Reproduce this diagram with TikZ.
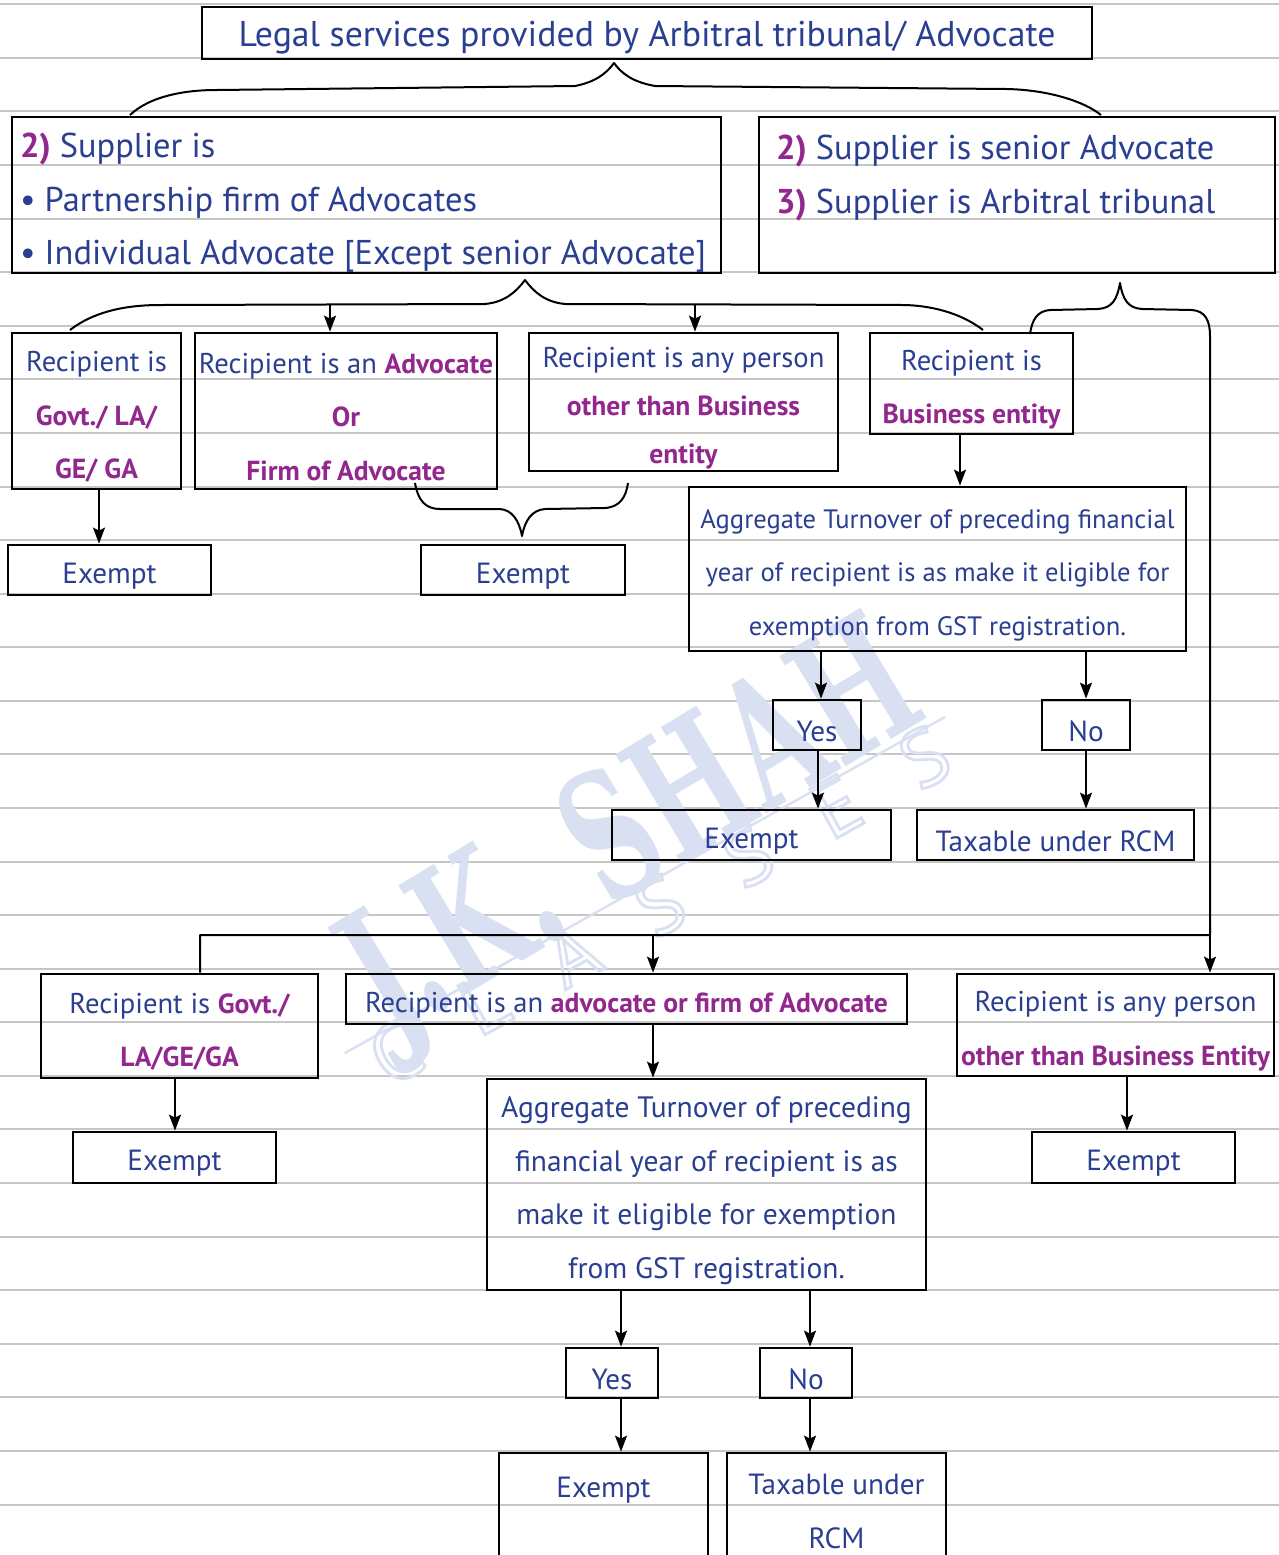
\documentclass[tikz,border=0pt]{standalone}
\usepackage{fontspec}
\setmainfont{PT Sans}
\newfontfamily\accentfam{PT Sans}[Scale=0.965]
\newfontfamily\wmfont{DejaVu Serif}
\usetikzlibrary{arrows.meta}

\definecolor{ink}{RGB}{42,63,145}
\definecolor{accent}{RGB}{146,40,142}
\definecolor{ruling}{RGB}{198,198,198}
\definecolor{wmark}{RGB}{216,224,242}

\newcommand\pk[1]{{\accentfam\bfseries\color{accent}#1}}
\newcommand\num[1]{{\bfseries\color{accent}#1}}
\newcommand\fs[2]{\fontsize{#1}{#2}\selectfont}
\newcommand\wl[1]{\makebox[50.5pt]{#1}}
\newcommand\outl[1]{\special{pdf:literal direct 1 Tr 1.4 w}#1\special{pdf:literal direct 0 Tr}}

% frame from corner (x1,y1) to (x2,y2) in pixel units, text centred and set a little low
\newcommand\mkbox[7][]{%
  \node[frame,minimum width={(#5-#3)*0.5pt},minimum height={(#6-#4)*0.5pt}]
    (#2) at ({(#3+#5)/2},{(#4+#6)/2}) {};
  \node[txt,#1] (#2-t) at ([yshift=-3pt]#2.center) {#7};}
% same, with the text flush left at a given indent
\newcommand\mkboxl[8][]{%
  \node[frame,minimum width={(#5-#3)*0.5pt},minimum height={(#6-#4)*0.5pt}]
    (#2) at ({(#3+#5)/2},{(#4+#6)/2}) {};
  \node[txt,anchor=west,align=left,#1] (#2-t) at ([xshift=#7,yshift=-3pt]#2.west) {#8};}

\begin{document}
\begin{tikzpicture}[x=0.5pt,y=-0.5pt,
  frame/.style={draw=black,line width=1.4pt,inner sep=0pt},
  txt/.style={inner sep=0pt,align=center,text=ink,font=\fs{14.3}{26.75}},
  big/.style={font=\fs{17.2}{26.75}},
  ex/.style={font=\fs{14.6}{26.75}},
  arr/.style={line width=1pt,-{Stealth[length=8pt,width=6pt,inset=1.5pt]}},
  brc/.style={line width=1pt,line join=round},
]
\useasboundingbox (0,0) rectangle (1279,1555);
\begin{scope}
\clip (0,0) rectangle (1279,1555);
\fill[white] (0,0) rectangle (1279,1555);

% ruled paper
\foreach \k in {0,...,28}
  \draw[ruling,line width=1pt] (0,{4.3+53.58*\k}) -- (1279,{4.3+53.58*\k});

% watermark
\node[text=wmark,rotate=31,font=\wmfont\bfseries\fs{88}{88}] (wmtitle) at (636,838)
  {\scalebox{0.63}[1]{J.K. SHAH}};
\draw[wmark,line width=1.2pt] (345,1053) -- (945,717);
\node[text=wmark,rotate=29.2,font=\fs{40}{40}] (wmsub) at (660,905)
  {\outl{\wl{C}\wl{L}\wl{A}\wl{S}\wl{S}\wl{E}\wl{S}}};

% boxes
\mkbox[font=\fs{17.9}{26.75},yshift=0.5pt]{title}{202}{7}{1092}{59}{Legal services provided by Arbitral tribunal/ Advocate}
\mkboxl[big,yshift=-1pt]{supL}{12}{117}{721}{273}{4.5pt}
  {\num{2)} Supplier is\\ • Partnership firm of Advocates\\ • Individual Advocate [Except senior Advocate]}
\mkboxl[big]{supR}{759}{117}{1275}{273}{9pt}
  {\num{2)} Supplier is senior Advocate\\ \num{3)} Supplier is Arbitral tribunal\\ \mbox{}}

\mkbox{govt}{12}{333}{181}{489}{Recipient is\\ \pk{Govt./ LA/}\\ \pk{GE/ GA}}
\mkbox{adv}{195}{333}{497}{489}{Recipient is an \pk{Advocate}\\ \pk{Or}\\ \pk{Firm of Advocate}}
\mkbox[font=\fs{14.3}{24}]{oth}{529}{333}{838}{471}{Recipient is any person\\ \pk{other than Business}\\ \pk{entity}}
\mkbox{bus}{870}{333}{1073}{434}{Recipient is\\ \pk{Business entity}}

\mkbox[ex]{exA}{8}{545}{211}{595}{Exempt}
\mkbox[ex]{exB}{421}{545}{625}{595}{Exempt}
\mkbox[font=\fs{13.3}{26.75}]{aggA}{689}{487}{1186}{651}
  {Aggregate Turnover of preceding financial\\ year of recipient is as make it eligible for\\ exemption from GST registration.}
\mkbox[ex]{yesA}{773}{700}{861}{750}{Yes}
\mkbox[ex]{noA}{1042}{700}{1130}{750}{No}
\mkbox[ex]{exC}{612}{810}{891}{860}{Exempt}
\mkbox[ex]{taxA}{917}{810}{1194}{860}{Taxable under RCM}

\mkbox{govtB}{41}{974}{318}{1078}{Recipient is \pk{Govt./}\\ \pk{LA/GE/GA}}
\mkbox{advB}{346}{974}{907}{1024}{Recipient is an \pk{advocate or firm of Advocate}}
\mkbox{othB}{957}{974}{1274}{1076}{Recipient is any person\\ \pk{other than Business Entity}}
\mkbox[ex]{exD}{73}{1132}{276}{1183}{Exempt}
\mkbox[ex]{exE}{1032}{1132}{1235}{1183}{Exempt}
\mkbox[font=\fs{14.75}{26.75}]{aggB}{487}{1079}{926}{1290}
  {Aggregate Turnover of preceding\\ financial year of recipient is as\\ make it eligible for exemption\\ from GST registration.}
\mkbox[ex]{yesB}{566}{1348}{658}{1398}{Yes}
\mkbox[ex]{noB}{760}{1348}{852}{1398}{No}
\mkbox[ex,yshift=1pt]{exF}{499}{1453}{708}{1568}{Exempt\\ \mbox{}}
\mkbox[ex,yshift=2.5pt]{taxB}{727}{1453}{946}{1568}{Taxable under\\ RCM}

% braces
\draw[brc] (130,115) .. controls (150,96) and (185,90) .. (216,90) -- (575,86)
  .. controls (595,82) and (606,74) .. (614,63)
  .. controls (622,74) and (633,82) .. (655,86) -- (1007,89)
  .. controls (1050,90) and (1085,102) .. (1101,115);
\draw[brc] (70,330) .. controls (92,313) and (122,305) .. (160,305) -- (485,304)
  .. controls (505,302) and (516,292) .. (525,280)
  .. controls (534,292) and (545,302) .. (565,304) -- (905,305)
  .. controls (938,306) and (965,316) .. (983,330);
\coordinate (split) at (1210,935);
\draw[brc] (1030,334) .. controls (1032,320) and (1037,311) .. (1050,310) -- (1098,309)
  .. controls (1112,308) and (1117,300) .. (1120,283)
  .. controls (1123,300) and (1128,308) .. (1142,309) -- (1192,310)
  .. controls (1205,311) and (1210,320) .. (1210,336) -- (split) -- (200,935) -- (200,0 |- govtB.north);
\draw[brc] (415,483) .. controls (418,500) and (425,509) .. (440,509) -- (500,509)
  .. controls (512,510) and (519,520) .. (522,536)
  .. controls (525,520) and (532,510) .. (545,509) -- (605,508)
  .. controls (620,507) and (626,497) .. (628,483);

% arrows
\draw[arr] (330,305) -- (330,0 |- adv.north);
\draw[arr] (695,305) -- (695,0 |- oth.north);
\draw[arr] (99,0 |- govt.south) -- (99,0 |- exA.north);
\draw[arr] (960,0 |- bus.south) -- (960,0 |- aggA.north);
\draw[arr] (821,0 |- aggA.south) -- (821,0 |- yesA.north);
\draw[arr] (1086,0 |- aggA.south) -- (1086,0 |- noA.north);
\draw[arr] (818,0 |- yesA.south) -- (818,0 |- exC.north);
\draw[arr] (1086,0 |- noA.south) -- (1086,0 |- taxA.north);
\draw[arr] (653,935) -- (653,0 |- advB.north);
\draw[arr] (split) -- (split |- othB.north);
\draw[arr] (175,0 |- govtB.south) -- (175,0 |- exD.north);
\draw[arr] (1127,0 |- othB.south) -- (1127,0 |- exE.north);
\draw[arr] (653,0 |- advB.south) -- (653,0 |- aggB.north);
\draw[arr] (621,0 |- aggB.south) -- (621,0 |- yesB.north);
\draw[arr] (810,0 |- aggB.south) -- (810,0 |- noB.north);
\draw[arr] (621,0 |- yesB.south) -- (621,0 |- exF.north);
\draw[arr] (810,0 |- noB.south) -- (810,0 |- taxB.north);
\end{scope}
\end{tikzpicture}
\end{document}
